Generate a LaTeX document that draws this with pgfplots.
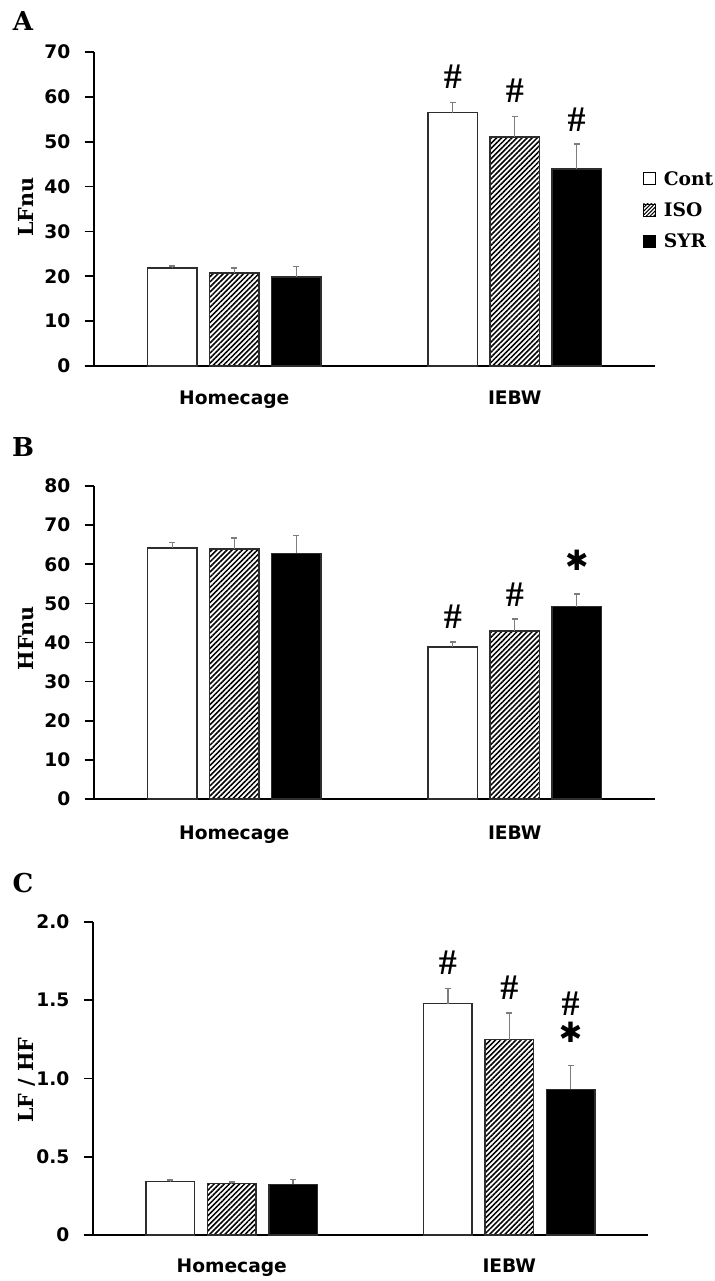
\documentclass[border=0pt]{standalone}
\usepackage{pgfplots}
\pgfplotsset{compat=1.18}
\usepackage{pgfplotstable}
\usepackage{fontspec}
\setmainfont{DejaVu Serif}
\newfontfamily\sansf{DejaVu Sans}
\newfontfamily\hashf{Liberation Serif}
\usetikzlibrary{patterns.meta}

\definecolor{errgray}{RGB}{125,125,125}
\definecolor{edge}{RGB}{45,45,45}

% group  mean / SEM for Cont, ISO, SYR
\pgfplotstableread{
g cont conte iso isoe syr syre
0 21.8 0.5 20.7 1.2 19.8 2.4
1 56.5 2.3 51.1 4.5 43.9 5.6
}\lfdata
\pgfplotstableread{
g cont conte iso isoe syr syre
0 64.2 1.4 63.9 2.8 62.8 4.5
1 38.9 1.2 42.9 3.1 49.2 3.2
}\hfdata
\pgfplotstableread{
g cont conte iso isoe syr syre
0 0.341 0.010 0.328 0.011 0.324 0.032
1 1.478 0.098 1.248 0.172 0.931 0.153
}\ratiodata

\newcommand{\tickfont}{\sansf\bfseries\fontsize{14}{14}\selectfont}
\newcommand{\hashmark}{{\hashf\bfseries\fontsize{27}{27}\selectfont\#}}
\newcommand{\starmark}{{\sansf\bfseries\fontsize{21}{21}\selectfont ✱}}

\tikzset{mark node/.style={inner sep=0pt, outer sep=0pt}}

\pgfplotsset{
  panel/.style={
    scale only axis,
    anchor=south west,
    xmin=-0.5, xmax=1.5, ymin=0,
    axis x line=bottom, axis y line=left,
    axis line style={-, line width=1.2pt, black},
    x axis line style={shorten <=-7pt},
    xtick={0,1}, xticklabels={Homecage,IEBW},
    x tick style={draw=none},
    xticklabel style={font=\tickfont, anchor=base},
    tick align=outside, major tick length=7pt,
    y tick style={line width=1.2pt, black},
    yticklabel style={font=\tickfont, anchor=east, inner sep=0pt, xshift=-10.5pt},
    ylabel style={font=\bfseries\fontsize{15.5}{15.5}\selectfont, anchor=center},
    ybar, bar width=0.175,
    every axis plot/.append style={bar shift=0pt},
    clip=false,
  },
  contbar/.style={fill=white, draw=edge, line width=1.1pt,
    legend image code/.code={\draw[fill=white, draw=black, line width=0.6pt] (0pt,-4.5pt) rectangle (9pt,4.5pt);}},
  isobar/.style={pattern={Lines[angle=45, distance=2.7pt, line width=1.15pt]}, draw=edge, line width=1.1pt,
    legend image code/.code={\draw[pattern={Lines[angle=45, distance=2pt, line width=0.8pt]}, draw=black, line width=0.6pt] (0pt,-4.5pt) rectangle (9pt,4.5pt);}},
  syrbar/.style={fill=black, draw=edge, line width=1.1pt,
    legend image code/.code={\draw[fill=black, draw=black, line width=0.6pt] (0pt,-4.5pt) rectangle (9pt,4.5pt);}},
  sem/.style={error bars/.cd, y dir=plus, y explicit,
    error bar style={errgray, line width=1.1pt},
    error mark options={errgray, line width=1.1pt, rotate=90, mark size=2.2pt}},
}

\begin{document}
\begin{tikzpicture}
\path[use as bounding box] (0pt,0pt) rectangle (535.5pt,-960.75pt);

% panel letters
\node[font=\bfseries\fontsize{19.5}{19.5}\selectfont] at (17.25pt,-15.75pt) {A};
\node[font=\bfseries\fontsize{19.5}{19.5}\selectfont] at (17.25pt,-335.6pt) {B};
\node[font=\bfseries\fontsize{19.5}{19.5}\selectfont] at (17.25pt,-661.9pt) {C};

% ---------------- A: LFnu ----------------
\begin{axis}[panel,
  at={(70.5pt,-274.5pt)}, width=420.75pt, height=235.5pt,
  ymax=70, ytick={0,10,...,70},
  yticklabels={0,10,20,30,40,50,60,70},
  xticklabel style={yshift=-21.75pt},
  ylabel={LFnu},
  ylabel style={at={(axis description cs:-0.1212,0.506)}},
  legend style={at={(axis description cs:0.9786,0.497)}, anchor=west,
    draw=none, fill=none, inner sep=0pt, outer sep=0pt,
    font=\bfseries\fontsize{14}{14}\selectfont,
    row sep=13pt, nodes={inner sep=0pt, text height=10.3pt, text depth=0pt},
    /tikz/every odd column/.append style={column sep=6pt}},
  legend cell align=left,
]
\addplot+[contbar, sem] table[x expr=\thisrow{g}-0.221, y=cont, y error=conte] {\lfdata};
\addplot+[isobar, sem] table[x=g, y=iso, y error=isoe] {\lfdata};
\addplot+[syrbar, sem] table[x expr=\thisrow{g}+0.221, y=syr, y error=syre] {\lfdata};
\legend{Cont,ISO,SYR}
\node[mark node] at (axis cs:0.779,64.5) {\hashmark};
\node[mark node] at (axis cs:1,61.3) {\hashmark};
\node[mark node] at (axis cs:1.221,55.0) {\hashmark};
\end{axis}

% ---------------- B: HFnu ----------------
\begin{axis}[panel,
  at={(70.5pt,-599.25pt)}, width=420.75pt, height=234.75pt,
  ymax=80, ytick={0,10,...,80},
  yticklabels={0,10,20,30,40,50,60,70,80},
  xticklabel style={yshift=-23.25pt},
  ylabel={HFnu},
  ylabel style={at={(axis description cs:-0.1212,0.514)}},
]
\addplot+[contbar, sem] table[x expr=\thisrow{g}-0.221, y=cont, y error=conte] {\hfdata};
\addplot+[isobar, sem] table[x=g, y=iso, y error=isoe] {\hfdata};
\addplot+[syrbar, sem] table[x expr=\thisrow{g}+0.221, y=syr, y error=syre] {\hfdata};
\node[mark node] at (axis cs:0.779,46.5) {\hashmark};
\node[mark node] at (axis cs:1,52.3) {\hashmark};
\node[mark node] at (axis cs:1.221,60.9) {\starmark};
\end{axis}

% ---------------- C: LF/HF ----------------
\begin{axis}[panel,
  at={(69.75pt,-926.25pt)}, width=416.25pt, height=234.75pt,
  ymax=2, ytick={0,0.5,1,1.5,2},
  yticklabels={0,0.5,1.0,1.5,2.0},
  xticklabel style={yshift=-21pt},
  ylabel={LF / HF},
  ylabel style={at={(axis description cs:-0.1187,0.495)}},
]
\addplot+[contbar, sem] table[x expr=\thisrow{g}-0.221, y=cont, y error=conte] {\ratiodata};
\addplot+[isobar, sem] table[x=g, y=iso, y error=isoe] {\ratiodata};
\addplot+[syrbar, sem] table[x expr=\thisrow{g}+0.221, y=syr, y error=syre] {\ratiodata};
\node[mark node] at (axis cs:0.779,1.739) {\hashmark};
\node[mark node] at (axis cs:1,1.578) {\hashmark};
\node[mark node] at (axis cs:1.221,1.478) {\hashmark};
\node[mark node] at (axis cs:1.221,1.298) {\starmark};
\end{axis}
\end{tikzpicture}
\end{document}
